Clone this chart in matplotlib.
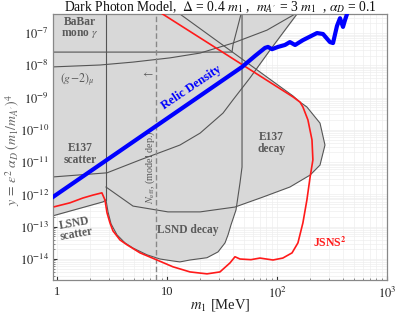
import numpy as np
import matplotlib
matplotlib.use('Agg')
import matplotlib.pyplot as plt

plt.rcParams['font.family'] = 'serif'
plt.rcParams['font.serif'] = ['Liberation Serif', 'DejaVu Serif']
plt.rcParams['mathtext.fontset'] = 'stix'

# ---- data (m1 in MeV, y given as log10) ----
ytop = -6.0

lsnd_sc_m = [0.9, 2.62, 2.79]
lsnd_sc_y = [-12.67, -12.23, -12.17]

e137_sc_m = [0.9, 2.85, 5.69, 10, 13.1, 20, 32.3, 39.8, 56.8, 86.3, 152]
e137_sc_y = [-11.46, -11.33, -10.93, -10.62, -10.47, -10.10, -9.48, -9.07, -8.39, -7.53, -6.41]

g2_m = [0.9, 2.46, 4.91, 10.6, 20, 39.8, 81.1, 146]
g2_y = [-8.05, -7.99, -7.90, -7.77, -7.62, -7.31, -6.91, -6.41]

babar_m = [0.9, 39, 39.8, 47.1]
babar_y = [-7.59, -7.59, -7.37, -6.41]

e137_dec_m = [13.1, 140, 162, 187, 246, 273, 246, 200, 131, 74.6, 41.5, 20, 10.2, 4.91, 2.79]
e137_dec_y = [-6.41, -8.95, -9.14, -9.29, -9.79, -10.47, -11.09, -11.40, -11.77, -12.08,
              -12.39, -12.54, -12.54, -12.36, -11.77]

lsnd_dec_m = [2.79, 2.91, 3.10, 3.51, 4.15, 4.91, 6.58, 8.64, 11.3, 13.1, 16.2, 23.1,
              29.1, 33.7, 35.9, 38.2, 42.4, 46.1, 48.1, 48.1]
lsnd_dec_y = [-12.17, -12.54, -12.91, -13.25, -13.50, -13.66, -13.87, -14.0, -14.06, -14.09,
              -14.03, -13.96, -13.78, -13.50, -13.25, -12.94, -12.48, -11.64, -11.15, -6.41]

jsns_m = [8.28, 140, 162, 172, 191, 208, 212, 200, 187, 172, 155, 137, 113, 92, 80, 70,
          58, 46.1, 41.5, 37.4, 30.3, 23.1, 16.2, 11.3, 8.11, 5.69, 4.33, 3.74, 3.23, 3.03,
          2.85, 2.73, 2.56, 2.12, 1.72, 1.31, 1.0, 0.95]
jsns_y = [-6.32, -8.98, -9.14, -9.29, -9.69, -10.31, -10.93, -11.46, -12.17, -12.88, -13.50,
          -13.81, -13.97, -14.03, -14.0, -13.97, -14.02, -14.0, -13.93, -14.12, -14.40, -14.46,
          -14.40, -14.24, -14.03, -13.81, -13.56, -13.41, -13.13, -12.88, -12.57, -12.17,
          -11.95, -12.02, -12.11, -12.26, -12.36, -12.38]

relic_m = [0.9, 48.1, 63.1, 77.8, 82.8, 90.1, 102, 118, 131, 146, 172, 231, 262, 303, 323,
           351, 374, 398, 415, 442]
relic_y = [-12.10, -8.05, -7.71, -7.46, -7.43, -7.50, -7.43, -7.37, -7.28, -7.37, -7.22,
           -7.0, -7.03, -7.28, -7.31, -6.78, -6.54, -6.81, -6.60, -6.32]

m_neff = 7.94
xticks = [1, 10, 100, 1000]
xtick_labels = ['1', '10', '$10^2$', '$10^3$']
yexp = [-14, -13, -12, -11, -10, -9, -8, -7]

fill_c = '#d8d8d8'
edge_c = '#555555'
text_c = '#5a5a5a'

fig = plt.figure(figsize=(3.95, 3.2), dpi=100)
ax = fig.add_axes([53/395, 40/320, 334/395, 266/320])
ax.set_xscale('log')
ax.set_yscale('log')

def P(y):
    return 10.0**np.array(y)

# filled regions
ax.fill_between(lsnd_sc_m, P(lsnd_sc_y), 10**ytop, color=fill_c, lw=0, zorder=1)
ax.fill_between(e137_sc_m, P(e137_sc_y), 10**ytop, color=fill_c, lw=0, zorder=1)
ax.fill_between(g2_m, P(g2_y), 10**ytop, color=fill_c, lw=0, zorder=1)
ax.fill_between(babar_m, P(babar_y), 10**ytop, color=fill_c, lw=0, zorder=1)
ax.fill(e137_dec_m, P(e137_dec_y), color=fill_c, lw=0, zorder=1)
ax.fill(lsnd_dec_m + [2.79], P(lsnd_dec_y + [-6.41]), color=fill_c, lw=0, zorder=1)

# boundary lines
kw = dict(color=edge_c, lw=0.8, zorder=2)
ax.plot(lsnd_sc_m, P(lsnd_sc_y), **kw)
ax.plot(e137_sc_m, P(e137_sc_y), **kw)
ax.plot(g2_m, P(g2_y), **kw)
ax.plot(babar_m, P(babar_y), **kw)
ax.plot(e137_dec_m, P(e137_dec_y), **kw)
ax.plot(lsnd_dec_m, P(lsnd_dec_y), **kw)
ax.plot([2.79, 2.79], [10**ytop, 10**-12.17], **kw)
ax.axvline(m_neff, color='#888888', lw=1.0, ls=(0, (4, 2)), zorder=2)

ax.plot(jsns_m, P(jsns_y), color='#ff1a1a', lw=1.2, zorder=3)
ax.plot(relic_m, P(relic_y), color='#0000ff', lw=3, zorder=4, solid_capstyle='butt')

ax.set_xlim(0.92, 1000)
ax.set_ylim(10**-14.65, 10**-6.41)
ax.grid(True, which='both', color='#eeeeee', lw=0.5)
ax.set_axisbelow(True)
ax.set_xticks(xticks)
ax.set_xticklabels(xtick_labels)
ax.set_yticks([10.0**e for e in yexp])
ax.set_yticklabels(['$10^{%d}$' % e for e in yexp])
ax.tick_params(which='major', direction='in', length=3, labelsize=9, colors='#333333', pad=3)
ax.tick_params(which='minor', direction='in', length=1.5, colors='#777777')
ax.tick_params(axis='x', labelcolor='#222222', pad=4)
ax.tick_params(axis='y', labelcolor='#222222')
for s in ax.spines.values():
    s.set_color('#888888')
    s.set_linewidth(0.9)

# labels in the plot
tk = dict(transform=ax.transAxes, ha='center', va='center', color=text_c,
          fontsize=8.3, fontweight='bold', linespacing=0.95)
ax.text(0.08, 0.947, 'BaBar\nmono $\\gamma$', **tk)
ax.text(0.072, 0.752, '$(g\\!-\\!2)_\\mu$', transform=ax.transAxes, ha='center',
        va='center', color=text_c, fontsize=8.5)
ax.text(0.081, 0.474, 'E137\nscatter', **tk)
ax.text(0.066, 0.192, 'LSND\nscatter', rotation=10, **tk)
ax.text(0.404, 0.188, 'LSND decay', **tk)
ax.text(0.653, 0.515, 'E137\ndecay', **tk)
ax.text(0.829, 0.139, 'JSNS$^\\mathbf{2}$', transform=ax.transAxes, ha='center', va='center',
        color='#ff1a1a', fontsize=8.5, fontweight='bold')
ax.text(0.415, 0.722, 'Relic Density', transform=ax.transAxes, ha='center', va='center',
        color='#0000ff', fontsize=8.8, fontweight='bold', rotation=34)
ax.text(0.291, 0.425, '$N_{\\mathrm{eff}}$, (model dep.)', transform=ax.transAxes,
        ha='center', va='center', color=text_c, fontsize=7.3, rotation=90)
ax.text(0.284, 0.771, '$\\leftarrow$', transform=ax.transAxes, ha='center', va='center',
        color=text_c, fontsize=8)

fig.text(0.557, 0.978, 'Dark Photon Model,  $\\Delta$ = 0.4 $m_1$ ,  $m_{A^\\prime}$ = 3 $m_1$  , $\\alpha_D$ = 0.1',
         ha='center', va='center', fontsize=9.8, color='#111111')
fig.text(0.557, 0.047, '$m_1$ [MeV]', ha='center', va='center', fontsize=10.5, color='#222222')
fig.text(0.033, 0.53, '$y\\,=\\,\\epsilon^2\\;\\alpha_D\\;(m_1/m_{A^\\prime})^4$', ha='center',
         va='center', rotation=90, fontsize=10, color='#666666')

fig.savefig('out.png', dpi=100)
